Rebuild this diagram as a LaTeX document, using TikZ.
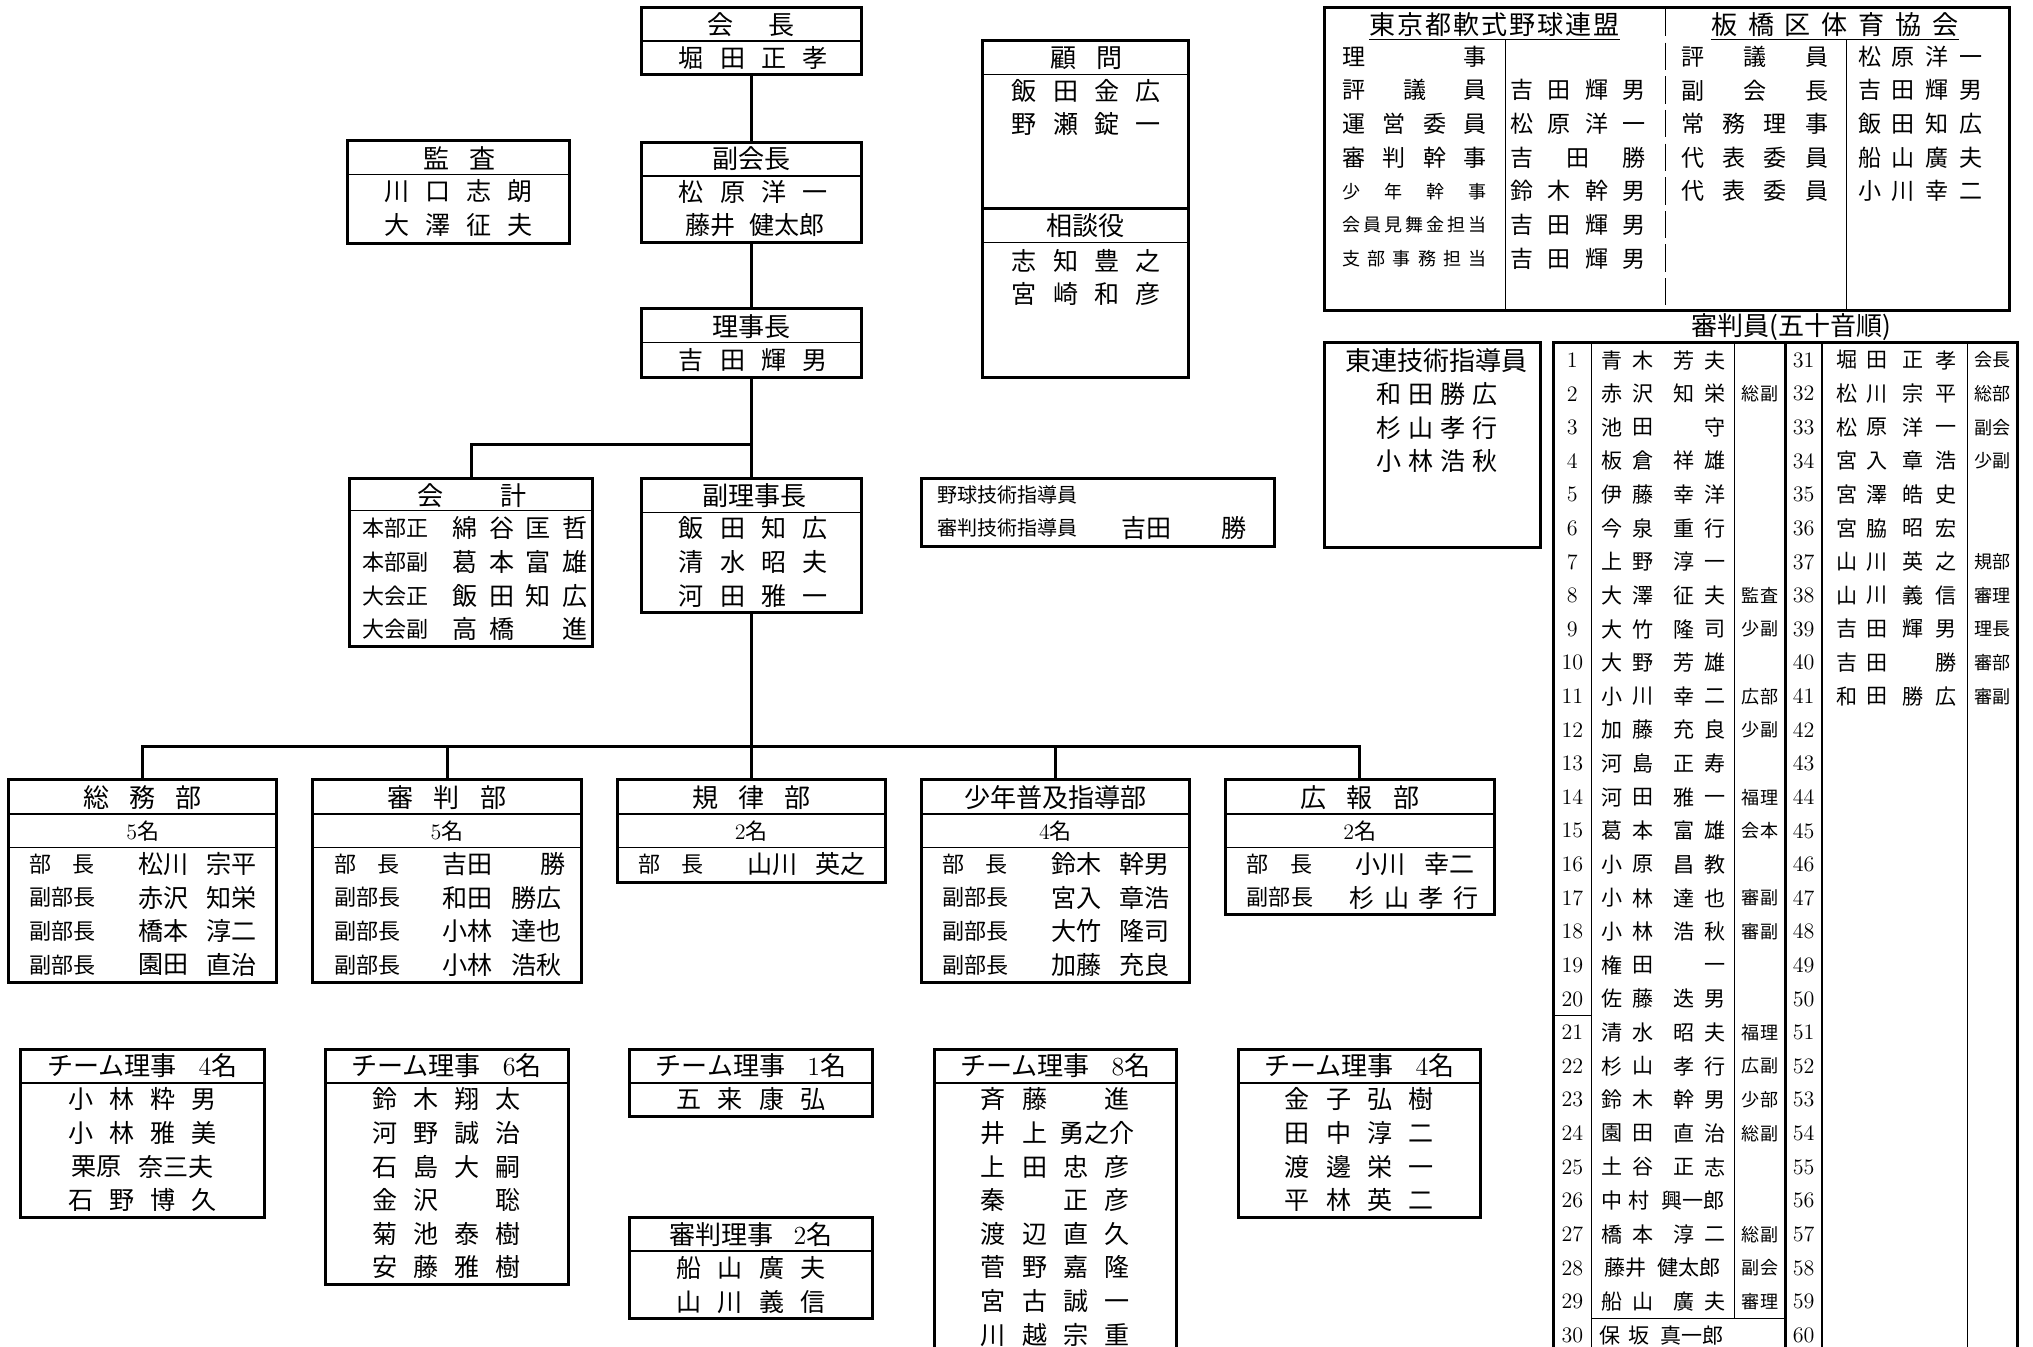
\documentclass[tikz,border=0pt]{standalone}
\usepackage{fontspec}
\newfontfamily\jp{Noto Sans CJK JP}
\newcounter{nc}
\newcommand\jw[2]{\makebox[\dimexpr #1pt*65/100\relax][s]{#2}}
\newcommand\blk{\hphantom{国}}
\newcommand\tn[4][]{\stepcounter{nc}\node[#1] (n\arabic{nc}) at (#2,#3) {#4};}
\newcommand\bx[5]{\node[sbox, minimum width={((#4)-(#2))*0.65pt}, minimum height={((#5)-(#3))*0.65pt}] (#1) at ({((#2)+(#4))/2},{((#3)+(#5))/2}) {};}
\newcommand\hs[3]{\draw[sthin] (#1,#3) -- (#2,#3);}
\newcommand\dept[5]{%
  \bx{#1}{#2}{598.5}{#2+206}{#3}
  \hs{#2}{#2+206}{624.6}
  \hs{#2}{#2+206}{650.5}
  \tn[sttl]{#2+103}{611.8}{#4}
  \tn[slbl]{#2+103}{637.5}{#5}}
\newcommand\drow[5]{%
  \tn[slbl,anchor=west]{#1+16}{#2}{#3}
  \tn[snm]{#1+119}{#2}{#4}
  \tn[snm]{#1+171.5}{#2}{#5}}
\newcommand\four[4]{\jw{114}{#1\hfill #2\hfill #3\hfill #4}}
\begin{document}
\begin{tikzpicture}[x=0.65pt,y=-0.65pt,
  sbox/.style={draw,line width=1.5pt,inner sep=0pt,outer sep=0pt},
  sthin/.style={line width=0.6pt},
  sconn/.style={line width=1.5pt},
  sjp/.style={inner sep=0pt,execute at begin node={\vphantom{国}}},
  sttl/.style={sjp,font=\jp\fontsize{13}{14}\selectfont},
  snm/.style={sjp,font=\jp\fontsize{12.5}{14}\selectfont},
  smid/.style={sjp,font=\jp\fontsize{11.5}{13}\selectfont},
  slbl/.style={sjp,font=\jp\fontsize{11}{12}\selectfont},
  slbs/.style={sjp,font=\jp\fontsize{10}{11}\selectfont},
  ssm/.style={sjp,font=\jp\fontsize{9}{10}\selectfont},
  stnm/.style={sjp,font=\jp\fontsize{10.5}{12}\selectfont},
  stnote/.style={sjp,font=\jp\fontsize{9}{10}\selectfont},
  snum/.style={inner sep=0pt,font=\fontsize{11}{12}\selectfont}]
\useasboundingbox (0,0) rectangle (1560,1033.6);
\clip (0,0) rectangle (1560,1033.6);

% ---------- 会長 ----------
\bx{kaicho}{492}{5.5}{661}{57.5}
\hs{492}{661}{31.5}
\tn[sttl]{576.5}{18.8}{\jw{67}{会\hfill 長}}
\tn[snm]{578}{44.8}{\four{堀}{田}{正}{孝}}
% ---------- 副会長 ----------
\bx{fukukaicho}{492}{109}{661}{186}
\hs{492}{661}{135}
\tn[sttl]{576.5}{121.5}{副会長}
\tn[snm]{578}{147}{\four{松}{原}{洋}{一}}
\tn[snm]{579.5}{173}{藤井\hspace{7pt}健太郎}
% ---------- 理事長 ----------
\bx{rijicho}{492}{237}{661}{290}
\hs{492}{661}{263}
\tn[sttl]{576.5}{250.5}{理事長}
\tn[snm]{578}{276.5}{\four{吉}{田}{輝}{男}}
% ---------- 監査 ----------
\bx{kansa}{267}{108}{437}{187}
\hs{267}{437}{134}
\tn[sttl]{352.5}{121.5}{\jw{55}{監\hfill 査}}
\tn[snm]{352}{147}{\four{川}{口}{志}{朗}}
\tn[snm]{352}{172.6}{\four{大}{澤}{征}{夫}}
% ---------- 顧問 / 相談役 ----------
\bx{komon}{754}{31}{912}{160}
\hs{754}{912}{57}
\tn[sttl]{833.5}{44.5}{\jw{55}{顧\hfill 問}}
\tn[snm]{833.5}{70}{\four{飯}{田}{金}{広}}
\tn[snm]{833.5}{95.5}{\four{野}{瀬}{錠}{一}}
\bx{sodan}{754}{160}{912}{290}
\hs{754}{912}{186}
\tn[sttl]{833}{173}{相談役}
\tn[snm]{833.5}{200}{\four{志}{知}{豊}{之}}
\tn[snm]{833.5}{225.5}{\four{宮}{崎}{和}{彦}}
% ---------- 会計 ----------
\bx{kaikei}{268}{367}{455}{496}
\hs{268}{455}{392}
\tn[sttl]{362}{380}{\jw{84}{会\hfill 計}}
\foreach \pl/\pa/\pb/\pc/\pd [count=\k from 0] in {本部正/綿/谷/匡/哲, 本部副/葛/本/富/雄, 大会正/飯/田/知/広, 大会副/高/橋/\blk/進}{
  \tn[slbl,anchor=west]{278}{405.5+25.8*\k}{\pl}
  \tn[snm]{399}{405.5+25.8*\k}{\jw{104}{\pa\hfill\pb\hfill\pc\hfill\pd}}}
% ---------- 副理事長 ----------
\bx{fukuriji}{492}{367}{661}{470}
\hs{492}{661}{393}
\tn[sttl]{579}{380}{副理事長}
\tn[snm]{578}{405.5}{\four{飯}{田}{知}{広}}
\tn[snm]{578}{431.3}{\four{清}{水}{昭}{夫}}
\tn[snm]{578}{457.1}{\four{河}{田}{雅}{一}}
% ---------- 技術指導員 ----------
\bx{gijutsu}{707}{367}{978}{419}
\tn[slbs,anchor=west]{719}{379.5}{野球技術指導員}
\tn[slbs,anchor=west]{719}{405}{審判技術指導員}
\tn[snm]{880}{405}{吉田}
\tn[snm]{947}{405}{勝}

% ---------- 部 ----------
\dept{somu}{6.5}{754}{\jw{91}{総\hfill 務\hfill 部}}{{\rmfamily 5}名}
\drow{6.5}{663}{\jw{50}{部\hfill 長}}{松川}{宗平}
\drow{6.5}{688.8}{副部長}{赤沢}{知栄}
\drow{6.5}{714.6}{副部長}{橋本}{淳二}
\drow{6.5}{740.4}{副部長}{園田}{直治}

\dept{shinpan}{240}{754}{\jw{91}{審\hfill 判\hfill 部}}{{\rmfamily 5}名}
\drow{240}{663}{\jw{50}{部\hfill 長}}{吉田}{}
\tn[snm]{240+184}{663}{勝}
\drow{240}{688.8}{副部長}{和田}{勝広}
\drow{240}{714.6}{副部長}{小林}{達也}
\drow{240}{740.4}{副部長}{小林}{浩秋}

\dept{kiritsu}{473.5}{677}{\jw{91}{規\hfill 律\hfill 部}}{{\rmfamily 2}名}
\drow{473.5}{663}{\jw{50}{部\hfill 長}}{山川}{英之}

\dept{shonen}{707}{754}{少年普及指導部}{{\rmfamily 4}名}
\drow{707}{663}{\jw{50}{部\hfill 長}}{鈴木}{幹男}
\drow{707}{688.8}{副部長}{宮入}{章浩}
\drow{707}{714.6}{副部長}{大竹}{隆司}
\drow{707}{740.4}{副部長}{加藤}{充良}

\dept{koho}{940.5}{701.8}{\jw{91}{広\hfill 報\hfill 部}}{{\rmfamily 2}名}
\drow{940.5}{663}{\jw{50}{部\hfill 長}}{小川}{幸二}
\tn[slbl,anchor=west]{940.5+16}{688.8}{副部長}
\tn[snm]{940.5+144.5}{688.8}{\jw{99}{杉\hfill 山\hfill 孝\hfill 行}}

% ---------- connectors ----------
\coordinate (br) at (576.5,341);
\coordinate (bus) at (576.5,572.5);
\draw[sconn] (kaicho.south) -- (fukukaicho.north);
\draw[sconn] (fukukaicho.south) -- (rijicho.north);
\draw[sconn] (rijicho.south) -- (fukuriji.north);
\draw[sconn] (br) -| (kaikei.north);
\draw[sconn] (fukuriji.south) -- (bus);
\draw[sconn] (somu.north) -- (somu.north |- bus) -- (koho.north |- bus) -- (koho.north);
\draw[sconn] (shinpan.north) -- (shinpan.north |- bus);
\draw[sconn] (kiritsu.north) -- (kiritsu.north |- bus);
\draw[sconn] (shonen.north) -- (shonen.north |- bus);

% ---------- チーム理事 ----------
\bx{team1}{15.4}{805}{203}{934.5}
\hs{15.4}{203}{831}
\tn[sttl]{109.2}{817.5}{\jw{146}{チーム理事\hfill{\rmfamily 4}名}}
\tn[snm]{109.2}{843.5}{\four{小}{林}{粋}{男}}
\tn[snm]{109.2}{869.3}{\four{小}{林}{雅}{美}}
\tn[snm]{74}{895.1}{栗原}
\tn[snm]{135}{895.1}{奈三夫}
\tn[snm]{109.2}{920.9}{\four{石}{野}{博}{久}}

\bx{team2}{249.5}{805}{436}{985.5}
\hs{249.5}{436}{831}
\tn[sttl]{342.7}{817.5}{\jw{146}{チーム理事\hfill{\rmfamily 6}名}}
\foreach \pa/\pb/\pc/\pd [count=\k from 0] in {鈴/木/翔/太, 河/野/誠/治, 石/島/大/嗣, 金/沢/\blk/聡, 菊/池/泰/樹, 安/藤/雅/樹}{
  \tn[snm]{342.7}{843.5+25.8*\k}{\four{\pa}{\pb}{\pc}{\pd}}}

\bx{team3}{483}{805}{669.5}{857}
\hs{483}{669.5}{831}
\tn[sttl]{576.3}{817.5}{\jw{146}{チーム理事\hfill{\rmfamily 1}名}}
\tn[snm]{576.3}{843.5}{\four{五}{来}{康}{弘}}

\bx{shinri}{483}{934}{669.5}{1011.6}
\hs{483}{669.5}{960}
\tn[sttl]{576.3}{947}{\jw{125}{審判理事\hfill{\rmfamily 2}名}}
\tn[snm]{576.3}{973.3}{\four{船}{山}{廣}{夫}}
\tn[snm]{576.3}{999}{\four{山}{川}{義}{信}}

\bx{team4}{717}{805}{902.5}{1045}
\hs{717}{902.5}{831}
\tn[sttl]{809.7}{817.5}{\jw{146}{チーム理事\hfill{\rmfamily 8}名}}
\tn[snm]{809.7}{843.5}{\four{斉}{藤}{\blk}{進}}
\tn[snm]{762.3}{869.3}{井}
\tn[snm]{793.9}{869.3}{上}
\tn[snm]{841.7}{869.3}{勇之介}
\foreach \pa/\pb/\pc/\pd [count=\k from 2] in {上/田/忠/彦, 秦/\blk/正/彦, 渡/辺/直/久, 菅/野/嘉/隆, 宮/古/誠/一, 川/越/宗/重}{
  \tn[snm]{809.7}{843.5+25.8*\k}{\four{\pa}{\pb}{\pc}{\pd}}}

\bx{team5}{950}{805}{1136}{934.5}
\hs{950}{1136}{831}
\tn[sttl]{1043}{817.5}{\jw{146}{チーム理事\hfill{\rmfamily 4}名}}
\foreach \pa/\pb/\pc/\pd [count=\k from 0] in {金/子/弘/樹, 田/中/淳/二, 渡/邊/栄/一, 平/林/英/二}{
  \tn[snm]{1043}{843.5+25.8*\k}{\four{\pa}{\pb}{\pc}{\pd}}}

% ---------- 東京都 / 板橋区 ----------
\bx{tokyo}{1016}{6}{1542}{238}
\node[sttl] (hA) at (1147,19) {\jw{192}{東\hfill 京\hfill 都\hfill 軟\hfill 式\hfill 野\hfill 球\hfill 連\hfill 盟}};
\node[sttl] (hB) at (1408,19) {\jw{190}{板\hfill 橋\hfill 区\hfill 体\hfill 育\hfill 協\hfill 会}};
\draw[sthin] ([yshift=-1pt]hA.south west) -- ([yshift=-1pt]hA.south east);
\draw[sthin] ([yshift=-1pt]hB.south west) -- ([yshift=-1pt]hB.south east);
\draw[sthin] (1155,31) -- (1155,238);
\draw[sthin] (1417,31) -- (1417,238);
\foreach \k in {0,...,8} \draw[sthin] (1278,{7+25.8*\k}) -- (1278,{28+25.8*\k});
\tn[smid]{1085.5}{43.5}{\jw{111}{理\hfill 事}}
\tn[smid]{1085.5}{69.3}{\jw{111}{評\hfill 議\hfill 員}}
\tn[smid]{1085.5}{95.1}{\jw{111}{運\hfill 営\hfill 委\hfill 員}}
\tn[smid]{1085.5}{120.9}{\jw{111}{審\hfill 判\hfill 幹\hfill 事}}
\tn[ssm]{1085.5}{146.7}{\jw{111}{少\hfill 年\hfill 幹\hfill 事}}
\tn[ssm]{1085.5}{172.5}{\jw{111}{会\hfill 員\hfill 見\hfill 舞\hfill 金\hfill 担\hfill 当}}
\tn[ssm]{1085.5}{198.3}{\jw{111}{支\hfill 部\hfill 事\hfill 務\hfill 担\hfill 当}}
\tn[smid]{1211}{69.3}{\jw{104}{吉\hfill 田\hfill 輝\hfill 男}}
\tn[smid]{1211}{95.1}{\jw{104}{松\hfill 原\hfill 洋\hfill 一}}
\tn[smid]{1211}{120.9}{\jw{104}{吉\hfill 田\hfill 勝}}
\tn[smid]{1211}{146.7}{\jw{104}{鈴\hfill 木\hfill 幹\hfill 男}}
\tn[smid]{1211}{172.5}{\jw{104}{吉\hfill 田\hfill 輝\hfill 男}}
\tn[smid]{1211}{198.3}{\jw{104}{吉\hfill 田\hfill 輝\hfill 男}}
\tn[smid]{1346.5}{43.5}{\jw{113}{評\hfill 議\hfill 員}}
\tn[smid]{1346.5}{69.3}{\jw{113}{副\hfill 会\hfill 長}}
\tn[smid]{1346.5}{95.1}{\jw{113}{常\hfill 務\hfill 理\hfill 事}}
\tn[smid]{1346.5}{120.9}{\jw{113}{代\hfill 表\hfill 委\hfill 員}}
\tn[smid]{1346.5}{146.7}{\jw{113}{代\hfill 表\hfill 委\hfill 員}}
\tn[smid]{1473.5}{43.5}{\jw{95}{松\hfill 原\hfill 洋\hfill 一}}
\tn[smid]{1473.5}{69.3}{\jw{95}{吉\hfill 田\hfill 輝\hfill 男}}
\tn[smid]{1473.5}{95.1}{\jw{95}{飯\hfill 田\hfill 知\hfill 広}}
\tn[smid]{1473.5}{120.9}{\jw{95}{船\hfill 山\hfill 廣\hfill 夫}}
\tn[smid]{1473.5}{146.7}{\jw{95}{小\hfill 川\hfill 幸\hfill 二}}

% ---------- 東連技術指導員 ----------
\bx{toren}{1016}{263}{1182}{420}
\tn[sttl]{1102.5}{277}{東連技術指導員}
\tn[snm]{1103}{302.5}{\jw{93}{和\hfill 田\hfill 勝\hfill 広}}
\tn[snm]{1103}{328.3}{\jw{93}{杉\hfill 山\hfill 孝\hfill 行}}
\tn[snm]{1103}{354.1}{\jw{93}{小\hfill 林\hfill 浩\hfill 秋}}

% ---------- 審判員 ----------
\tn[sttl]{1374.5}{251}{審判員(五十音順)}
\draw[line width=1.5pt] (1192,1045) -- (1192,263) -- (1548,263) -- (1548,1045);
\draw[line width=1.5pt] (1370,263) -- (1370,1045);
\draw[sthin] (1221,263) -- (1221,1045);
\draw[sthin] (1331,263) -- (1331,1011.6);
\draw[sthin] (1398,263) -- (1398,1045);
\draw[sthin] (1510,263) -- (1510,1045);
\draw[sthin] (1192,779.4) -- (1221,779.4);
\draw[sthin] (1221,1011.6) -- (1370,1011.6);
\foreach \i in {1,...,30}{
  \pgfmathsetmacro\yy{276.3+25.8*(\i-1)}
  \tn[snum]{1206.5}{\yy}{\i}}
\foreach \i in {31,...,60}{
  \pgfmathsetmacro\yy{276.3+25.8*(\i-31)}
  \tn[snum]{1384}{\yy}{\i}}
\foreach \i/\pa/\pb/\pc/\pd/\pn in {1/青/木/芳/夫/{}, 2/赤/沢/知/栄/総副, 3/池/田/{}/守/{}, 4/板/倉/祥/雄/{}, 5/伊/藤/幸/洋/{}, 6/今/泉/重/行/{}, 7/上/野/淳/一/{}, 8/大/澤/征/夫/監査, 9/大/竹/隆/司/少副, 10/大/野/芳/雄/{}, 11/小/川/幸/二/広部, 12/加/藤/充/良/少副, 13/河/島/正/寿/{}, 14/河/田/雅/一/福理, 15/葛/本/富/雄/会本, 16/小/原/昌/教/{}, 17/小/林/達/也/審副, 18/小/林/浩/秋/審副, 19/権/田/{}/一/{}, 20/佐/藤/迭/男/{}, 21/清/水/昭/夫/福理, 22/杉/山/孝/行/広副, 23/鈴/木/幹/男/少部, 24/園/田/直/治/総副, 25/土/谷/正/志/{}, 27/橋/本/淳/二/総副, 29/船/山/廣/夫/審理}{
  \pgfmathsetmacro\yy{276.3+25.8*(\i-1)}
  \tn[stnm]{1237}{\yy}{\pa}
  \tn[stnm]{1261}{\yy}{\pb}
  \tn[stnm]{1292}{\yy}{\pc}
  \tn[stnm]{1316}{\yy}{\pd}
  \tn[stnote]{1350.5}{\yy}{\pn}}
% row 26
\tn[stnm]{1237}{276.3+25.8*25}{中}
\tn[stnm]{1258}{276.3+25.8*25}{村}
\tn[stnm]{1299}{276.3+25.8*25}{興一郎}
% row 28
\tn[stnm]{1247}{276.3+25.8*27}{藤井}
\tn[stnm]{1296}{276.3+25.8*27}{健太郎}
\tn[stnote]{1350.5}{276.3+25.8*27}{副会}
% row 30
\tn[stnm]{1235.5}{276.3+25.8*29}{保}
\tn[stnm]{1257.7}{276.3+25.8*29}{坂}
\tn[stnm]{1298.5}{276.3+25.8*29}{真一郎}
\foreach \i/\pa/\pb/\pc/\pd/\pn in {31/堀/田/正/孝/会長, 32/松/川/宗/平/総部, 33/松/原/洋/一/副会, 34/宮/入/章/浩/少副, 35/宮/澤/皓/史/{}, 36/宮/脇/昭/宏/{}, 37/山/川/英/之/規部, 38/山/川/義/信/審理, 39/吉/田/輝/男/理長, 40/吉/田/{}/勝/審部, 41/和/田/勝/広/審副}{
  \pgfmathsetmacro\yy{276.3+25.8*(\i-31)}
  \tn[stnm]{1417}{\yy}{\pa}
  \tn[stnm]{1440}{\yy}{\pb}
  \tn[stnm]{1468}{\yy}{\pc}
  \tn[stnm]{1493}{\yy}{\pd}
  \tn[stnote]{1529}{\yy}{\pn}}
\end{tikzpicture}
\end{document}
